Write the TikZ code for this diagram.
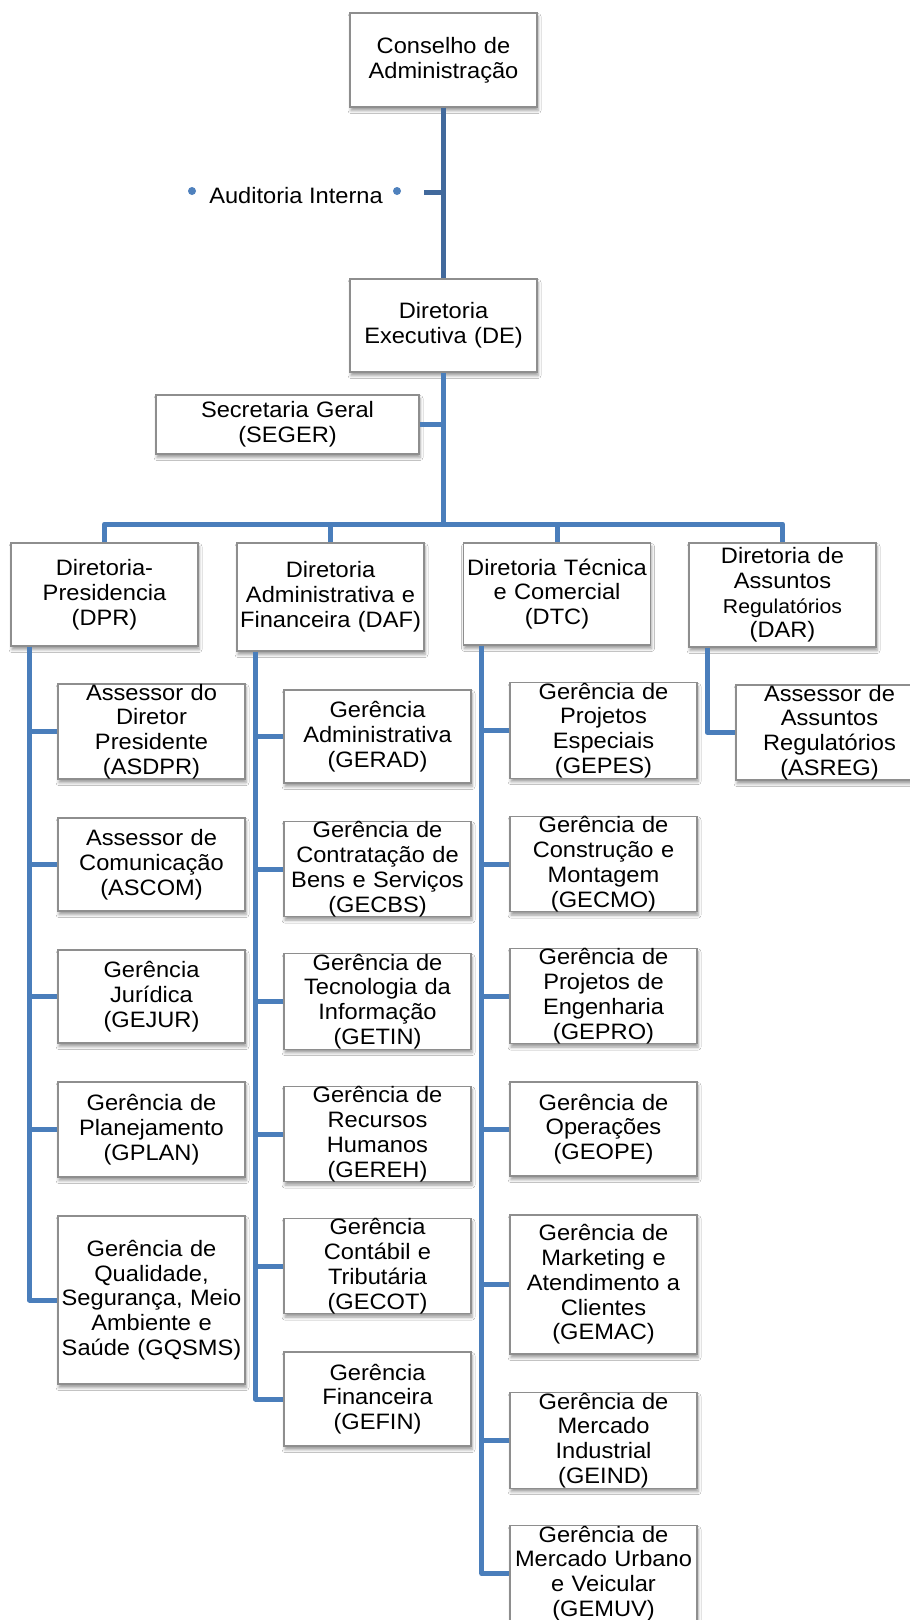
\documentclass[tikz,border=0pt]{standalone}
\usepackage{fontspec}
\setmainfont{Liberation Sans}[FakeStretch=1.06]
\usetikzlibrary{shadows.blur}
\definecolor{lineblue}{HTML}{4A7EBB}
\definecolor{darkblue}{HTML}{41699C}
\definecolor{boxgray}{HTML}{8E8E8E}
\definecolor{dotblue}{HTML}{4F81BD}
\tikzset{
  box/.style={draw=boxgray, line width=1.2pt, fill=white, inner xsep=1pt, inner ysep=0pt,
    minimum width=187pt, text width=185pt, align=center,
    font=\fontsize{22.3}{24.8}\selectfont,
    blur shadow={shadow xshift=1pt, shadow yshift=-3.5pt, shadow blur radius=3pt, shadow opacity=40}},
  conn/.style={draw=lineblue, line width=5pt, line join=round},
  dconn/.style={draw=darkblue, line width=5pt, line join=round},
  dot/.style={circle, fill=dotblue, inner sep=0pt, minimum size=8pt},
  plain/.style={inner sep=0pt, font=\fontsize{22.3}{24.8}\selectfont}
}
\begin{document}
\begin{tikzpicture}[x=1pt, y=-1pt]
\clip (0,0) rectangle (910,1620);
\fill[white] (0,0) rectangle (910,1620);
% top
\node[box, minimum height=94pt] (cons) at (443.5,60) {Conselho de\\Administração};
\node[box, minimum height=93pt] (de) at (443.5,325.5) {Diretoria\\Executiva (DE)};
\node[box, minimum width=263pt, text width=261pt, minimum height=59pt] (seger) at (287.5,424.5) {Secretaria Geral\\(SEGER)};
\node[plain, anchor=base] (audit) at (296,203) {Auditoria Interna};
\node[dot] (dotl) at (192,191) {};
\node[dot] (dotr) at (397,191) {};
\coordinate (tick) at (424,192);
\coordinate (bus) at (443.5,524);
% directorates
\node[box, minimum height=103pt] (dpr) at (104.5,594.5) {Diretoria-\\Presidencia\\(DPR)};
\node[box, minimum height=108pt] (daf) at (330.5,597) {Diretoria\\Administrativa e\\Financeira (DAF)};
\node[box, minimum height=102pt] (dtc) at (557,594) {Diretoria Técnica\\e Comercial\\(DTC)};
\node[box, minimum height=104pt] (dar) at (782.5,595) {Diretoria de\\Assuntos\\{\fontsize{20}{24.8}\selectfont Regulatórios}\\(DAR)};
% column 1
\node[box, minimum height=93pt] (asdpr) at (151.5,731.5) {Assessor do\\Diretor\\Presidente\\(ASDPR)};
\node[box, minimum height=93pt] (ascom) at (151.5,864.5) {Assessor de\\Comunicação\\(ASCOM)};
\node[box, minimum height=93pt] (gejur) at (151.5,996.5) {Gerência\\Jurídica\\(GEJUR)};
\node[box, minimum height=95pt] (gplan) at (151.5,1129.5) {Gerência de\\Planejamento\\(GPLAN)};
\node[box, minimum height=168pt] (gqsms) at (151.5,1300) {Gerência de\\Qualidade,\\Segurança, Meio\\Ambiente e\\Saúde (GQSMS)};
% column 2
\node[box, minimum height=93pt] (gerad) at (377.5,736.5) {Gerência\\Administrativa\\(GERAD)};
\node[box, minimum height=92pt] (gecbs) at (377.5,869) {Gerência de\\Contratação de\\Bens e Serviços\\(GECBS)};
\node[box, minimum height=93pt] (getin) at (377.5,1001.5) {Gerência de\\Tecnologia da\\Informação\\(GETIN)};
\node[box, minimum height=94pt] (gereh) at (377.5,1134) {Gerência de\\Recursos\\Humanos\\(GEREH)};
\node[box, minimum height=94pt] (gecot) at (377.5,1266) {Gerência\\Contábil e\\Tributária\\(GECOT)};
\node[box, minimum height=94pt] (gefin) at (377.5,1399) {Gerência\\Financeira\\(GEFIN)};
% column 3
\node[box, minimum height=93pt] (gepes) at (603.5,730.5) {Gerência de\\Projetos\\Especiais\\(GEPES)};
\node[box, minimum height=94pt] (gecmo) at (603.5,864) {Gerência de\\Construção e\\Montagem\\(GECMO)};
\node[box, minimum height=94pt] (gepro) at (603.5,996) {Gerência de\\Projetos de\\Engenharia\\(GEPRO)};
\node[box, minimum height=94pt] (geope) at (603.5,1129) {Gerência de\\Operações\\(GEOPE)};
\node[box, minimum height=139pt] (gemac) at (603.5,1284.5) {Gerência de\\Marketing e\\Atendimento a\\Clientes\\(GEMAC)};
\node[box, minimum height=93pt] (geind) at (603.5,1440.5) {Gerência de\\Mercado\\Industrial\\(GEIND)};
\node[box, minimum height=93pt] (gemuv) at (603.5,1573.5) {Gerência de\\Mercado Urbano\\e Veicular\\(GEMUV)};
% column 4
\node[box, minimum height=93pt] (asreg) at (829.5,732.5) {Assessor de\\Assuntos\\Regulatórios\\(ASREG)};
% connectors
\draw[dconn] (cons.south) -- (de.north);
\draw[dconn] (tick) -- (tick -| cons.south);
\draw[conn] (de.south) -- (bus);
\draw[conn] (seger.east) -- (seger.east -| de.south);
\draw[conn] (dpr.north) |- (bus) -| (dar.north);
\draw[conn] (daf.north) -- (daf.north |- bus);
\draw[conn] (dtc.north) -- (dtc.north |- bus);
% column lines
\coordinate (l1) at ([xshift=19pt]dpr.south west);
\coordinate (l2) at ([xshift=19pt]daf.south west);
\coordinate (l3) at ([xshift=19pt]dtc.south west);
\coordinate (l4) at ([xshift=19pt]dar.south west);
\draw[conn] (l1) |- (gqsms.west);
\foreach \n in {asdpr,ascom,gejur,gplan} \draw[conn] (\n.west) -- (\n.west -| l1);
\draw[conn] (l2) |- (gefin.west);
\foreach \n in {gerad,gecbs,getin,gereh,gecot} \draw[conn] (\n.west) -- (\n.west -| l2);
\draw[conn] (l3) |- (gemuv.west);
\foreach \n in {gepes,gecmo,gepro,geope,gemac,geind} \draw[conn] (\n.west) -- (\n.west -| l3);
\draw[conn] (l4) |- (asreg.west);
\end{tikzpicture}
\end{document}
